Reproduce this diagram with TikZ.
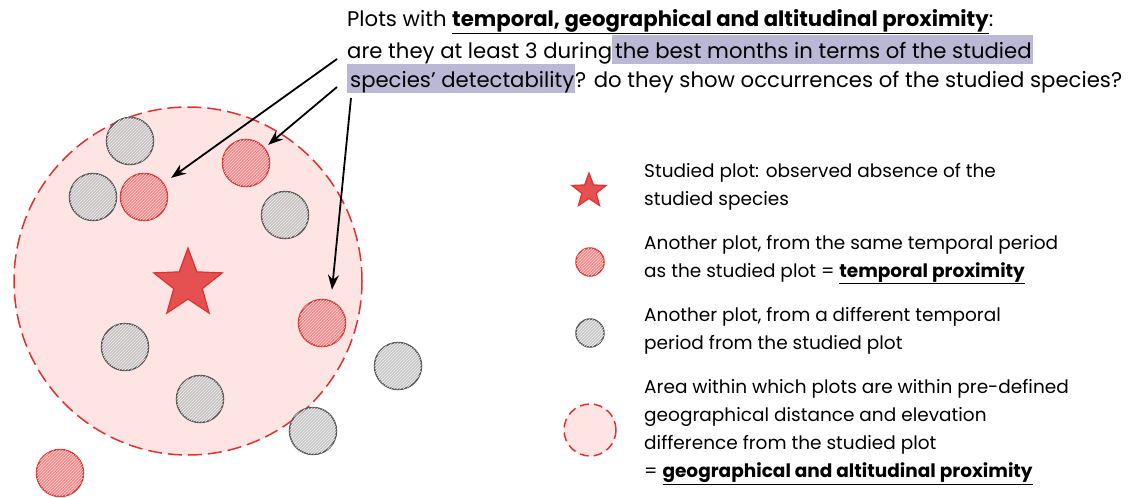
\documentclass[tikz,border=0pt]{standalone}
\usepackage{fontspec}
\setmainfont{Poppins}
\usetikzlibrary{arrows.meta,positioning,shapes.geometric,patterns}
\definecolor{plotred}{RGB}{224,49,49}
\definecolor{plotredfill}{RGB}{255,135,135}
\definecolor{plotgray}{RGB}{85,85,85}
\definecolor{plotgrayfill}{RGB}{185,185,185}
\definecolor{zonefill}{RGB}{255,228,228}
\definecolor{markhl}{RGB}{186,184,212}
\newcommand{\prox}[1]{\underline{\textbf{#1}}}
\newcommand{\hlmark}[1]{{\setlength{\fboxsep}{0pt}\colorbox{markhl}{\rule[-6pt]{0pt}{29pt}\kern3pt#1\kern1pt}}}

\begin{document}
\begin{tikzpicture}[x=1pt, y=-1pt,
  redplot/.style={circle, draw=plotred, line width=1.5pt, fill=plotredfill, minimum size=47pt, inner sep=0pt,
    postaction={pattern=north east lines, pattern color=white!70!plotredfill}},
  grayplot/.style={circle, draw=plotgray, line width=1.5pt, fill=plotgrayfill, fill opacity=0.8, minimum size=47pt, inner sep=0pt,
    postaction={pattern=north east lines, pattern color=white!80!plotgrayfill}},
  studied/.style={star, star points=5, star point ratio=2.4, draw=plotred, line width=1.2pt, fill=plotred!85,
    inner sep=0pt, minimum size=72pt},
  zone/.style={circle, draw=plotred, line width=1.5pt, dash pattern=on 14pt off 6pt, fill=zonefill, inner sep=0pt},
  txt/.style={anchor=north west, align=left, inner sep=0pt, font=\fontsize{18.5}{28}\selectfont},
  point/.style={-{Stealth[length=15pt, width=11pt]}, line width=1.8pt},
]
\useasboundingbox (0,0) rectangle (1130,498);

% area of proximity
\node[zone, minimum size=348pt] (area) at (188,281) {};

% other plots
\node[grayplot] (g1) at (130,141) {};
\node[grayplot] (g2) at (93,197) {};
\node[grayplot] (g3) at (285,215) {};
\node[grayplot] (g4) at (125,347) {};
\node[grayplot] (g5) at (200,399) {};
\node[grayplot] (g6) at (398,366) {};
\node[grayplot] (g7) at (313,431) {};
\node[redplot] (r1) at (144,197) {};
\node[redplot] (r2) at (246,163) {};
\node[redplot] (r3) at (322,323) {};
\node[redplot] (r4) at (60,473) {};

% studied plot
\node[studied] (star) at (188,284) {};

% question
\node[txt, font=\fontsize{21.2}{29}\selectfont] (quest) at (347,9) {Plots with \prox{temporal, geographical and altitudinal proximity}:\\
are they at least 3 during\hlmark{the best months in terms of the studied}\\
\hlmark{species' detectability}? do they show occurrences of the studied species?};

\coordinate (s1) at (337,59);
\coordinate (s2) at (337,87);
\coordinate (s3) at (351,98);
\draw[point] (s1) -- ([xshift=10pt,yshift=2pt]r1.north east);
\draw[point] (s2) -- ([xshift=5pt,yshift=1pt]r2.north east);
\draw[point] (s3) -- ([xshift=10pt,yshift=9pt]r3.north);

% legend
\node[studied, minimum size=36pt] (kstar) at (589,191) {};
\node[redplot, minimum size=28pt] (kred) at (590,262) {};
\node[grayplot, minimum size=28pt] (kgray) at (590,333) {};
\node[zone, dash pattern=on 9pt off 5pt, minimum size=52pt] (karea) at (590,430) {};

\node[txt] (tstar) at (644,163) {Studied plot: observed absence of the\\studied species};
\node[txt] (tred) at (644,235) {Another plot, from the same temporal period\\as the studied plot = \prox{temporal proximity}};
\node[txt] (tgray) at (644,307) {Another plot, from a different temporal\\period from the studied plot};
\node[txt] (tarea) at (644,379) {Area within which plots are within pre-defined\\geographical distance and elevation\\difference from the studied plot\\= \prox{geographical and altitudinal proximity}};
\end{tikzpicture}
\end{document}
